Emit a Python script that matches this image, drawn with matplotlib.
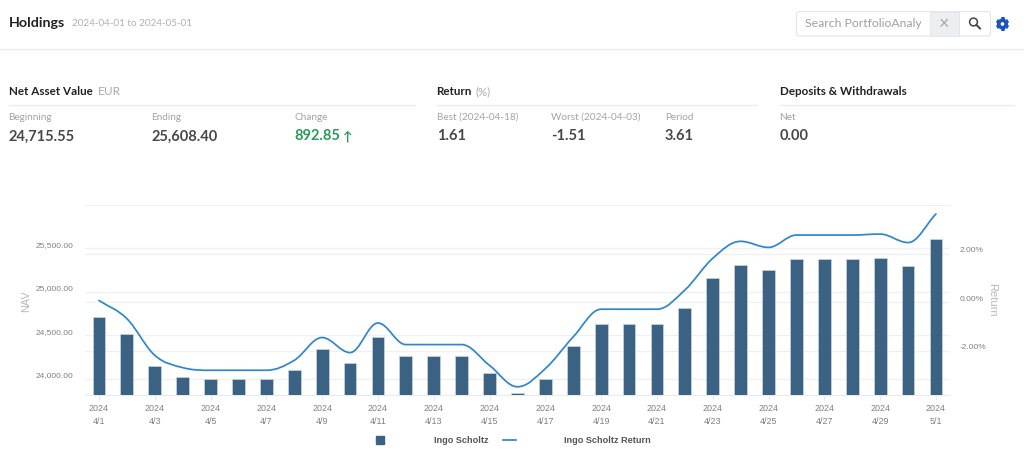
import numpy as np
import matplotlib
matplotlib.use("Agg")
import matplotlib.pyplot as plt
from matplotlib.path import Path
from matplotlib.patches import PathPatch, Rectangle, FancyBboxPatch, Circle
from matplotlib.lines import Line2D
from matplotlib.transforms import ScaledTranslation

# ---------- data ----------
dates = ["4/1","4/2","4/3","4/4","4/5","4/6","4/7","4/8","4/9","4/10","4/11","4/12","4/13","4/14","4/15","4/16",
         "4/17","4/18","4/19","4/20","4/21","4/22","4/23","4/24","4/25","4/26","4/27","4/28","4/29","4/30","5/1"]
nav = [24715.55,24520,24149,24027,24004,24004,24004,24107,24340,24184,24486,24260,24260,24260,24073,23839,
       24004,24383,24631,24631,24631,24819,25155,25312,25251,25381,25381,25381,25389,25301,25608.40]
ret = [0.07,-0.68,-2.19,-2.70,-2.81,-2.81,-2.81,-2.40,-1.46,-2.08,-0.86,-1.75,-1.75,-1.75,-2.61,-3.49,
       -2.74,-1.43,-0.29,-0.29,-0.29,0.50,1.81,2.51,2.26,2.77,2.77,2.77,2.81,2.46,3.64]
nav_ticks = [24000,24500,25000,25500]
ret_ticks = [-2,0,2]
series_names = ["Ingo Scholtz","Ingo Scholtz Return"]
year = "2024"

W, H, DPI = 1024, 471, 100
SANS = ["Lato", "DejaVu Sans"]
CHART = ["Liberation Sans", "DejaVu Sans"]
fig = plt.figure(figsize=(W/DPI, H/DPI), dpi=DPI, facecolor="white")

def rect_px(l, t, r, b):
    return [l/W, 1-b/H, (r-l)/W, (b-t)/H]

GRID = "#f0f0f2"
TICK = "#808080"
AXL = "#b8b8b8"

# ---------- chart ----------
box = rect_px(85, 204.5, 948.5, 395)
ax2 = fig.add_axes(box, zorder=1)                 # return scale, behind
ax = fig.add_axes(box, zorder=2)                  # nav scale + marks, in front
ax.patch.set_visible(False)

x = np.arange(len(dates))
ax.set_xlim(-0.5, 30.45)
ax2.set_xlim(-0.5, 30.45)
ax.set_ylim(23816, 26002)
ax2.set_ylim(-3.83, 4.03)

bars = ax.bar(x, nav, width=0.46, color="#3b6282", edgecolor="#c9d6e2", linewidth=0.5, zorder=2)

# smooth return line as a Bezier path through the values
r = np.array(ret, float)
slopes = np.diff(r)
tan = np.zeros_like(r)
tan[0], tan[-1] = slopes[0], slopes[-1]
for i in range(1, len(r)-1):
    a, b = slopes[i-1], slopes[i]
    if a*b > 0:
        tan[i] = (a+b)/2
verts = [(x[0], r[0])]
codes = [Path.MOVETO]
h = 0.36
for i in range(len(r)-1):
    verts += [(x[i]+h, r[i]+tan[i]*h), (x[i+1]-h, r[i+1]-tan[i+1]*h), (x[i+1], r[i+1])]
    codes += [Path.CURVE4]*3
line = PathPatch(Path(verts, codes), transform=ax2.transData, fill=False, edgecolor="#2f86c9",
                 linewidth=1.25, zorder=3, capstyle="round")
ax.add_patch(line)

for a in (ax, ax2):
    for s in a.spines.values():
        s.set_visible(False)
ax2.spines["top"].set_visible(True)
ax2.spines["top"].set_color(GRID)
ax2.spines["bottom"].set_visible(True)
ax2.spines["bottom"].set_color("#e6ecf5")

ax.set_yticks(nav_ticks)
ax.set_yticklabels([f"{v:,.2f}" for v in nav_ticks])
ax2.set_yticks(ret_ticks)
ax2.set_yticklabels([f"{v:.2f}%" for v in ret_ticks])
ax.yaxis.tick_left()
ax2.yaxis.tick_right()
ax.grid(axis="y", color=GRID, linewidth=1.0, zorder=0)
ax2.grid(axis="y", color=GRID, linewidth=1.0, zorder=0)
ax.set_axisbelow(True)
ax.tick_params(axis="y", length=0, pad=8.6, labelcolor=TICK, labelsize=6.0)
ax2.tick_params(axis="y", length=0, pad=8.3, labelcolor=TICK, labelsize=6.0)
shift = ScaledTranslation(0, 4/DPI, fig.dpi_scale_trans)
for a in (ax, ax2):
    for lab in a.get_yticklabels():
        lab.set_family(CHART)
        lab.set_transform(lab.get_transform() + shift)

ax2.set_xticks([])
ax.set_xticks(x[::2])
ax.set_xticklabels([f"{year}\n{d}" for d in dates[::2]], family=CHART, linespacing=1.48)
ax.tick_params(axis="x", length=3.6, width=0.8, color="#e3ebf5", labelcolor=TICK, labelsize=6.4, pad=3.2)

ax.set_ylabel("NAV", family=CHART, fontsize=7.8, color=AXL, va="center", ha="center")
ax.yaxis.set_label_coords((25.8-85)/863.5, (395-300.7)/190.5)
ax2.set_ylabel("Return", family=CHART, fontsize=8, color=AXL, rotation=270, va="center", ha="center")
ax2.yaxis.set_label_position("right")
ax2.yaxis.set_label_coords((997-85)/863.5, (395-300)/190.5)

# legend
FS = 6.6
fpx = FS*DPI/72
handles = [Line2D([], [], linestyle="none", marker="s", markersize=5.8, color="#3b6282"),
           Line2D([], [], color="#2f86c9", linewidth=1.25)]
leg = fig.legend(handles, series_names, loc="center", bbox_to_anchor=(512.0/W, 1-440.6/H), ncol=2, frameon=False,
                 prop={"family": CHART, "size": FS, "weight": "bold"}, labelcolor="#555555",
                 handlelength=13/fpx, handletextpad=47.5/fpx, columnspacing=15/fpx, borderpad=0, borderaxespad=0)

# ---------- page furniture, in pixel coordinates ----------
ui = fig.add_axes([0, 0, 1, 1], zorder=5)
ui.set_xlim(0, W); ui.set_ylim(H, 0); ui.axis("off")

def T(px, py, s, size=7.5, color="#999999", weight="normal", **k):
    return ui.text(px, py, s, fontsize=size, color=color, fontweight=weight, family=SANS, va="center", ha="left", **k)

def hline(y, x0, x1, color="#ececee", lw=1.0):
    ui.add_line(Line2D([x0, x1], [y, y], color=color, linewidth=lw))

DARK = "#222222"
VAL = "#484848"
LAB = "#a3a3a3"

T(9, 23, "Holdings", 10.3, DARK, "bold")
T(72, 23.5, "2024-04-01 to 2024-05-01", 7.1, "#b0b0b0")
hline(48.5, 0, W)

T(9, 91.5, "Net Asset Value", 8.4, DARK, "bold")
T(98, 91.5, "EUR", 8.6, "#aaaaaa")
T(436.5, 91.5, "Return", 8.4, DARK, "bold")
T(476, 91.5, "(%)", 8.3, "#aaaaaa")
T(780, 91.5, "Deposits & Withdrawals", 8.4, DARK, "bold")
hline(105, 9, 415); hline(105, 437, 757); hline(105, 780, 1014)

for px, lab_s, val, col in [
    (9, "Beginning", "24,715.55", VAL), (152, "Ending", "25,608.40", VAL), (295, "Change", "892.85", "#2a9a55"),
    (437.5, "Best (2024-04-18)", "1.61", VAL), (551.5, "Worst (2024-04-03)", "-1.51", VAL),
    (665.5, "Period", "3.61", VAL), (780, "Net", "0.00", VAL)]:
    T(px-0.5, 117.5, lab_s, 7.2, LAB)
    T(px-0.5, 136.5, val, 10.5, col, "bold")
T(342.5, 136.5, "\u2191", 9, "#2a9a55", "bold")

# search box
ui.add_patch(FancyBboxPatch((796.5, 11.5), 194, 24.5, boxstyle="round,pad=0,rounding_size=3",
                            fc="white", ec="#e6e6e8", lw=0.8))
ui.add_patch(Rectangle((930, 12), 29, 23.5, fc="#eceef0", ec="#e2e4e6", lw=0.6))
ph = T(805, 23.5, "Search PortfolioAnalyst", 8.8, "#a0a0a0")
ph.set_clip_path(Rectangle((796, 11), 125, 25, transform=ui.transData))
ph.set_clip_on(True)
ui.text(944.5, 25, "\u00d7", fontsize=13, color="#a8a8a8", ha="center", va="center", family=CHART)
ui.add_patch(Circle((973.5, 22), 3.9, fc="none", ec="#444444", lw=1.1))
ui.add_line(Line2D([976.5, 980], [25, 28.5], color="#444444", linewidth=1.4))
# gear
gx, gy = 1002.5, 24
ui.add_patch(Circle((gx, gy), 3.7, fc="none", ec="#1a56b8", lw=2.6))
for a_ in np.deg2rad(np.arange(30, 390, 60)):
    ui.add_line(Line2D([gx+4*np.cos(a_), gx+6.6*np.cos(a_)], [gy+4*np.sin(a_), gy+6.6*np.sin(a_)],
                       color="#1a56b8", linewidth=2.6, solid_capstyle="butt"))

fig.savefig("out.png", dpi=DPI)
